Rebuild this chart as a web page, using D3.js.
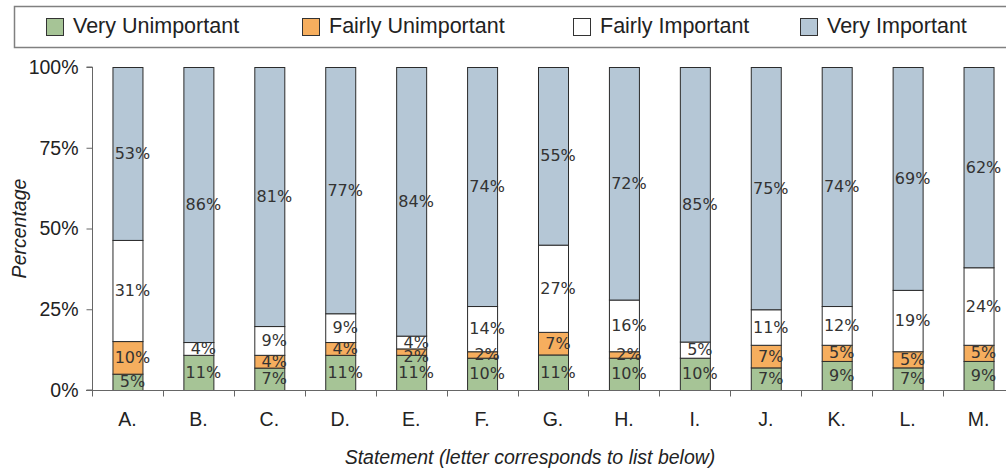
<!DOCTYPE html>
<html>
<head>
<meta charset="utf-8">
<script src="https://cdn.jsdelivr.net/npm/d3@7"></script>
<style>
  body { margin: 0; background: #fff; }
  svg { display: block; }
</style>
</head>
<body>
<script>
const width = 1006;
const height = 470;

const statements = ['A.', 'B.', 'C.', 'D.', 'E.', 'F.', 'G.', 'H.', 'I.', 'J.', 'K.', 'L.', 'M.'];
const ratings = ['Very Unimportant', 'Fairly Unimportant', 'Fairly Important', 'Very Important'];
const veryUnimportant   = [5, 11, 7, 11, 11, 10, 11, 10, 10, 7, 9, 7, 9];
const fairlyUnimportant = [10, 0, 4, 4, 2, 2, 7, 2, 0, 7, 5, 5, 5];
const fairlyImportant   = [31, 4, 9, 9, 4, 14, 27, 16, 5, 11, 12, 19, 24];
const veryImportant     = [53, 86, 81, 77, 84, 74, 55, 72, 85, 75, 74, 69, 62];
const yTicks = [0, 0.25, 0.5, 0.75, 1];
const colors = ['#a6c496', '#f6ae5e', '#ffffff', '#b5c7d6'];

const rows = statements.map((s, i) => ({
  statement: s,
  'Very Unimportant': veryUnimportant[i],
  'Fairly Unimportant': fairlyUnimportant[i],
  'Fairly Important': fairlyImportant[i],
  'Very Important': veryImportant[i]
}));

const series = d3.stack()
  .keys(ratings)
  .offset(d3.stackOffsetExpand)(rows);

const margin = { left: 92, top: 67, bottom: 390, right: 1014 };

const x = d3.scaleBand()
  .domain(statements)
  .range([margin.left, margin.right])
  .paddingInner(0.577)
  .paddingOuter(0.2885);

const y = d3.scaleLinear()
  .domain([0, 1])
  .range([margin.bottom, margin.top]);

const color = d3.scaleOrdinal(ratings, colors);

const svg = d3.select('body').append('svg')
  .attr('width', width)
  .attr('height', height);

// legend
const legend = svg.append('g');
legend.append('rect')
  .attr('x', 14.5).attr('y', 6.5)
  .attr('width', 1010).attr('height', 41)
  .attr('fill', '#fff')
  .attr('stroke', '#808080')
  .attr('stroke-width', 1.5);

const legendX = [46, 302, 573, 800];
const item = legend.selectAll('g.item')
  .data(ratings)
  .join('g')
    .attr('class', 'item')
    .attr('transform', (d, i) => `translate(${legendX[i]},0)`);
item.append('rect')
  .attr('x', 0.5).attr('y', 18.5)
  .attr('width', 17).attr('height', 17)
  .attr('fill', d => color(d))
  .attr('stroke', '#333');
item.append('text')
  .attr('x', 27).attr('y', 33)
  .attr('font-family', 'Liberation Sans, Arial, sans-serif')
  .attr('font-size', 21.5)
  .attr('fill', '#222')
  .text(d => d);

// bars
const layer = svg.append('g')
  .selectAll('g')
  .data(series)
  .join('g')
    .attr('fill', d => color(d.key));

layer.selectAll('rect')
  .data(d => d)
  .join('rect')
    .attr('x', d => x(d.data.statement) + 0.5)
    .attr('y', d => y(d[1]) + 0.5)
    .attr('width', x.bandwidth())
    .attr('height', d => Math.max(0, y(d[0]) - y(d[1])))
    .attr('stroke', '#2b2b2b')
    .attr('stroke-width', 1);

// value labels: middle of each segment, pushed down when too close to the one above
const labels = [];
statements.forEach((s, i) => {
  let prevY = -Infinity;
  for (let k = series.length - 1; k >= 0; k--) {
    const p = series[k][i];
    const v = p.data[series[k].key];
    if (!v) continue;
    let ly = (y(p[0]) + y(p[1])) / 2;
    if (ly - prevY < 14) ly = prevY + 14;
    prevY = ly;
    labels.push({ statement: s, value: v, y: ly });
  }
});

svg.append('g')
  .selectAll('text')
  .data(labels)
  .join('text')
    .attr('x', d => x(d.statement) + x.bandwidth() / 2 + 5)
    .attr('y', d => d.y)
    .attr('text-anchor', 'middle')
    .attr('dominant-baseline', 'central')
    .attr('font-family', 'DejaVu Sans, sans-serif')
    .attr('font-size', 16)
    .attr('fill', '#333')
    .text(d => d.value + '%');

// y axis
const yAxis = svg.append('g')
  .attr('transform', `translate(${margin.left + 0.5},0)`)
  .call(d3.axisLeft(y).tickValues(yTicks).tickFormat(d3.format('.0%')).tickSize(6).tickPadding(8));
yAxis.selectAll('text')
  .attr('font-family', 'Liberation Sans, Arial, sans-serif')
  .attr('font-size', 19.5)
  .attr('fill', '#222');
yAxis.selectAll('line, path').attr('stroke', '#666');
yAxis.select('.domain').attr('d', `M-6,${margin.top}H0V${margin.bottom}H-6`);

// x axis with ticks on band boundaries
const xAxis = svg.append('g')
  .attr('transform', `translate(0,${margin.bottom + 0.5})`);
xAxis.append('line')
  .attr('x1', margin.left - 6).attr('x2', margin.right)
  .attr('stroke', '#666');
xAxis.selectAll('line.tick')
  .data(d3.range(statements.length + 1))
  .join('line')
    .attr('class', 'tick')
    .attr('x1', i => Math.round(margin.left + i * x.step()) + 0.5)
    .attr('x2', i => Math.round(margin.left + i * x.step()) + 0.5)
    .attr('y1', 0).attr('y2', 6)
    .attr('stroke', '#666');
xAxis.selectAll('text')
  .data(statements)
  .join('text')
    .attr('x', d => x(d) + x.bandwidth() / 2)
    .attr('y', 35)
    .attr('text-anchor', 'middle')
    .attr('font-family', 'Liberation Sans, Arial, sans-serif')
    .attr('font-size', 19.5)
    .attr('fill', '#222')
    .text(d => d);

// axis titles
svg.append('text')
  .attr('transform', `translate(26,${(margin.top + margin.bottom) / 2}) rotate(-90)`)
  .attr('text-anchor', 'middle')
  .attr('font-family', 'Liberation Sans, Arial, sans-serif')
  .attr('font-style', 'italic')
  .attr('font-size', 19.5)
  .attr('fill', '#222')
  .text('Percentage');

svg.append('text')
  .attr('x', 530)
  .attr('y', 464)
  .attr('text-anchor', 'middle')
  .attr('font-family', 'Liberation Sans, Arial, sans-serif')
  .attr('font-style', 'italic')
  .attr('font-size', 19.5)
  .attr('fill', '#222')
  .text('Statement (letter corresponds to list below)');
</script>
</body>
</html>
